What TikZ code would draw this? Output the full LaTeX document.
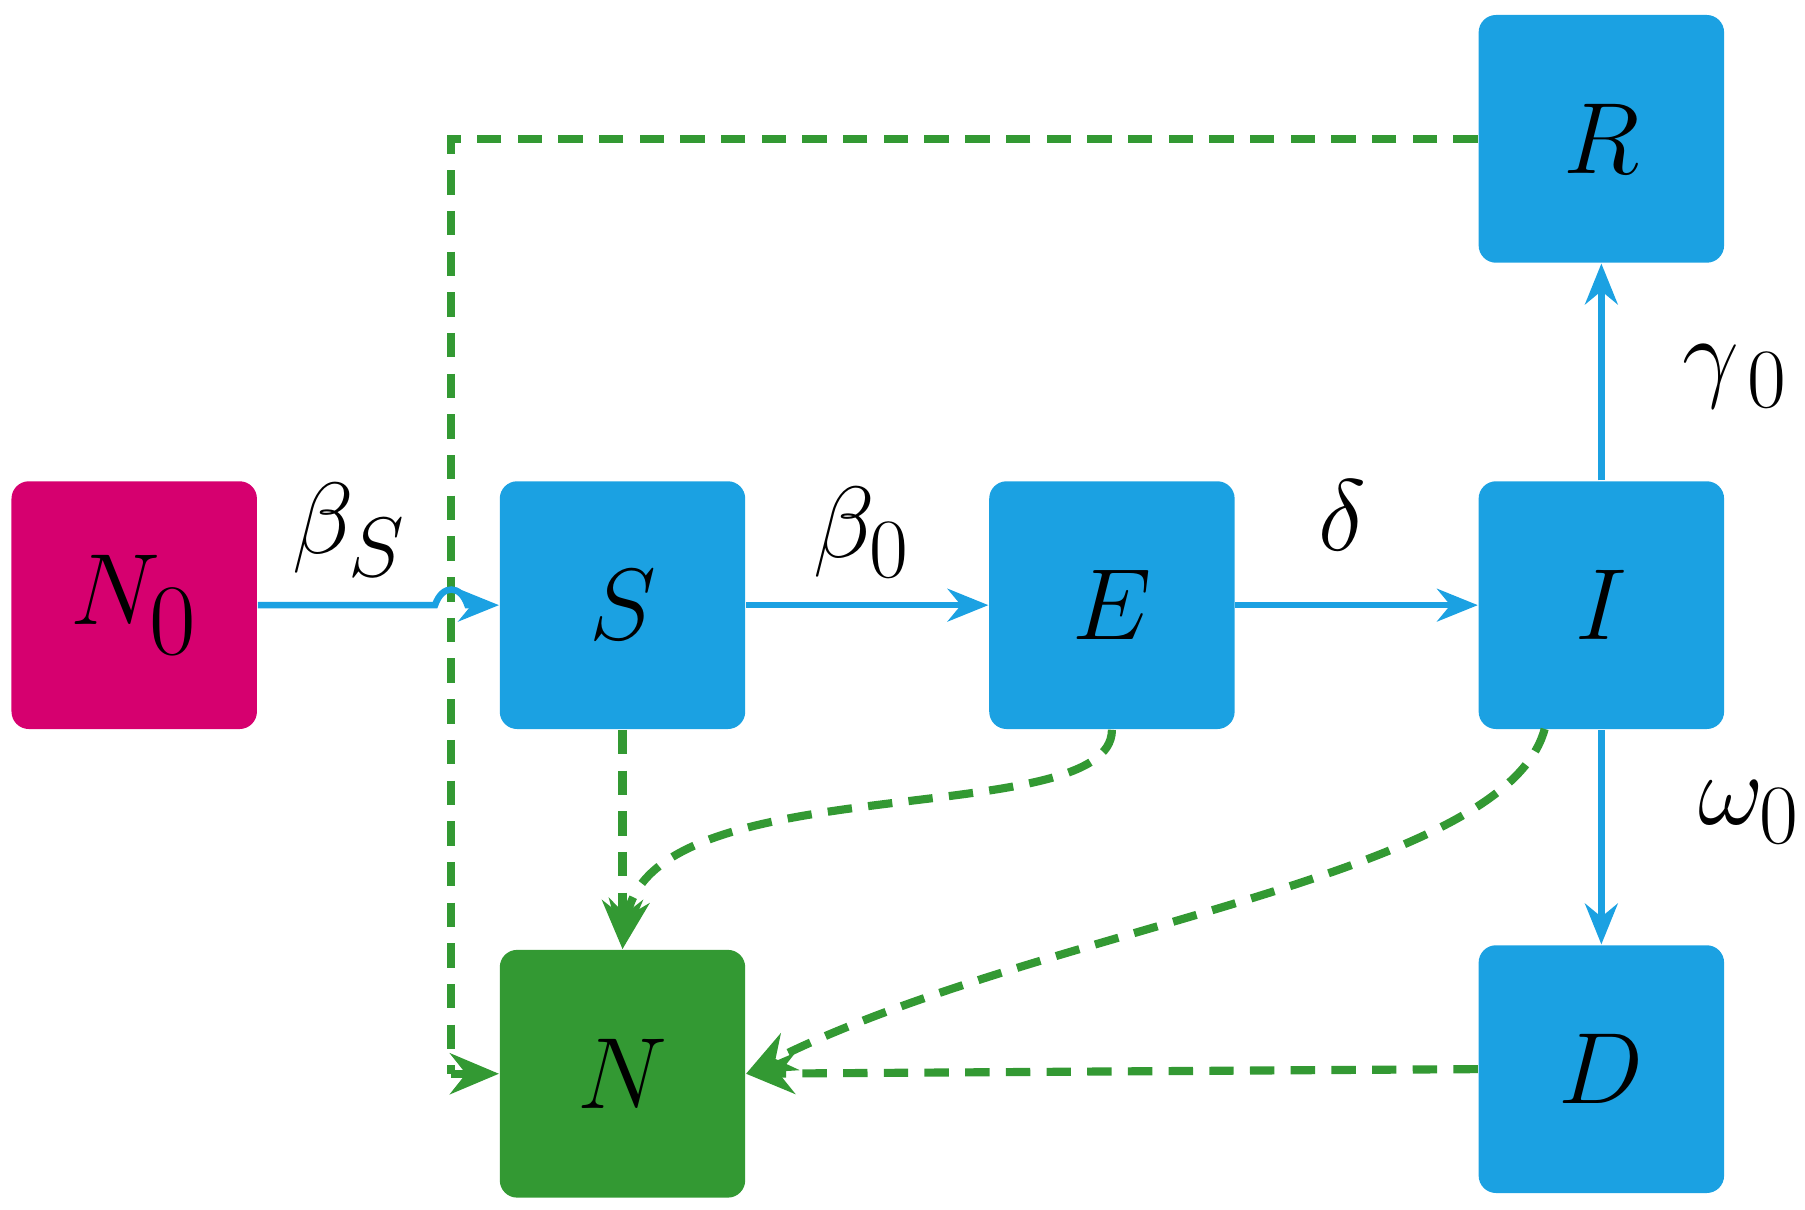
\documentclass[tikz,border=0pt]{standalone}
\usepackage{amsmath}
\usetikzlibrary{arrows.meta}
\definecolor{bx}{HTML}{1BA1E2}
\definecolor{mg}{HTML}{D6006F}
\definecolor{gn}{HTML}{339933}
\begin{document}
\begin{tikzpicture}[x=0.01cm,y=-0.01cm,
 box/.style={minimum width=2.12cm,minimum height=2.14cm,rounded corners=0.15cm,inner sep=0,font=\fontsize{44}{44}\selectfont},
 bl/.style={draw=bx,line width=1.6pt,-{Stealth[length=10pt,width=8pt]}},
 gd/.style={draw=gn,line width=2pt,dash pattern=on 6pt off 4pt,-{Stealth[length=12pt,width=10pt]}},
 lb/.style={font=\fontsize{30}{30}\selectfont}]
\useasboundingbox (0,0) rectangle (1560,1045);
\node[box,fill=mg] (N0) at (116,523) {$N_0$};
\node[box,fill=bx] (S) at (538,523) {$S$};
\node[box,fill=bx] (E) at (961,523) {$E$};
\node[box,fill=bx] (I) at (1384,523) {$I$};
\node[box,fill=bx] (R) at (1384,120) {$R$};
\node[box,fill=bx] (D) at (1384,924) {$D$};
\node[box,fill=gn] (N) at (538,928) {$N$};
\coordinate (c1) at (390,120);
\coordinate (c2) at (390,928);
\draw[gd,-] (R.west) -- (c1) -- (c2);
\draw[gd] (c2) -- (N.west);
\draw[gd] (S.south) -- (N.north);
\draw[gd] (E.south) .. controls (961,720) and (560,660) .. (N.north);
\draw[gd] (1335,630) .. controls (1300,760) and (900,800) .. (N.east);
\draw[gd] (D.west) -- (N.east);
\draw[bl] (N0.east) -- (376,523) .. controls (382,505) and (398,505) .. (404,523) -- (S.west);
\draw[bl] (S) -- (E);
\draw[bl] (E) -- (I);
\draw[bl] (I) -- (R);
\draw[bl] (I) -- (D);
\node[lb] (l1) at (302,458) {$\beta_S$};
\node[lb] (l2) at (745,460) {$\beta_0$};
\node[lb] (l3) at (1160,445) {$\delta$};
\node[lb] (l4) at (1500,325) {$\gamma_{\,0}$};
\node[lb] (l5) at (1512,702) {$\omega_0$};
\end{tikzpicture}
\end{document}
